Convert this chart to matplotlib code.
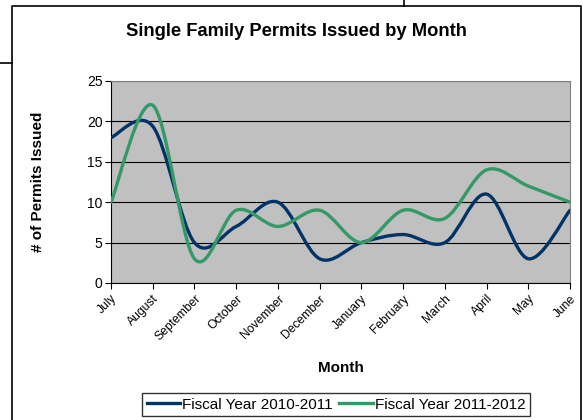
import matplotlib
matplotlib.use("Agg")
import matplotlib.pyplot as plt
import numpy as np
from matplotlib.path import Path
from matplotlib.patches import PathPatch
from matplotlib.lines import Line2D

plt.rcParams["font.family"] = ["Liberation Sans", "DejaVu Sans"]

months = ["July", "August", "September", "October", "November", "December",
          "January", "February", "March", "April", "May", "June"]
fy_2010_2011 = [18, 19.4, 5, 7, 10, 3, 5, 6, 5, 11, 3, 9]
fy_2011_2012 = [10, 22, 3, 9, 7, 9, 5, 9, 8, 14, 12, 10]
series_names = ["Fiscal Year 2010-2011", "Fiscal Year 2011-2012"]
series_colors = ["#003366", "#339966"]


def smooth_path(values):
    """Bezier path through the points, like Excel's smoothed line."""
    y = np.asarray(values, dtype=float)
    x = np.arange(len(y), dtype=float)
    pts = np.column_stack([x, y])
    padded = np.vstack([pts[0], pts, pts[-1]])
    verts = [pts[0]]
    codes = [Path.MOVETO]
    for i in range(len(pts) - 1):
        p0, p1, p2, p3 = padded[i], padded[i + 1], padded[i + 2], padded[i + 3]
        c1 = p1 + (p2 - p0) / 6
        c2 = p2 - (p3 - p1) / 6
        verts += [c1, c2, p2]
        codes += [Path.CURVE4] * 3
    return Path(verts, codes)


fig = plt.figure(figsize=(5.83, 4.2), dpi=100)
ax = fig.add_axes([111 / 583, 1 - 283 / 420, 459 / 583, 202 / 420])
ax.set_facecolor("#c0c0c0")

for vals, col in zip([fy_2010_2011, fy_2011_2012], series_colors):
    ax.add_patch(PathPatch(smooth_path(vals), facecolor="none",
                           edgecolor=col, lw=2.4, capstyle="round",
                           joinstyle="round", zorder=3))

ax.set_xlim(0, len(months) - 1)
ax.set_ylim(0, 25)
ax.set_yticks(range(0, 26, 5))
ax.set_xticks(range(len(months)))
ax.set_xticklabels(months, rotation=45, ha="right", va="top",
                   rotation_mode="anchor", fontsize=8.7)
ax.tick_params(axis="y", labelsize=10, length=4, width=0.8, pad=2)
ax.tick_params(axis="x", length=4, width=0.8, pad=3)
ax.grid(axis="y", color="black", lw=0.8)
ax.set_axisbelow(True)
for s in ["top", "right"]:
    ax.spines[s].set_color("#808080")
for s in ["left", "bottom"]:
    ax.spines[s].set_color("black")

ax.set_ylabel("# of Permits Issued", fontsize=11, fontweight="bold")
ax.yaxis.set_label_coords((38 - 111) / 459, 0.5)
ax.set_xlabel("Month", fontsize=11, fontweight="bold")
ax.xaxis.set_label_coords((341 - 111) / 459, (283 - 368) / 202)
ax.xaxis.label.set_va("center")
ax.yaxis.label.set_va("center")
fig.text(296 / 583, 1 - 32 / 420, "Single Family Permits Issued by Month",
         ha="center", va="center", fontsize=13.2, fontweight="bold")

handles = [Line2D([], [], color=c, lw=2.4) for c in series_colors]
fig.legend(handles, series_names, loc="upper left",
           bbox_to_anchor=(142 / 583, 1 - 393 / 420), ncol=2, fontsize=11,
           frameon=True, fancybox=False, edgecolor="black", borderaxespad=0,
           handlelength=2.2, handletextpad=0.15, columnspacing=0.4,
           borderpad=0.3)

# chart area border and stray lines from the source document
fig.add_artist(Line2D([12 / 583, 12 / 583, 581 / 583, 581 / 583],
                      [0, 1 - 6 / 420, 1 - 6 / 420, 0], color="black", lw=1.2))
fig.add_artist(Line2D([0, 12 / 583], [1 - 63 / 420] * 2, color="black", lw=1.2))
fig.add_artist(Line2D([404 / 583] * 2, [1, 1 - 6 / 420], color="black", lw=1.2))

fig.savefig("out.png", dpi=100)
